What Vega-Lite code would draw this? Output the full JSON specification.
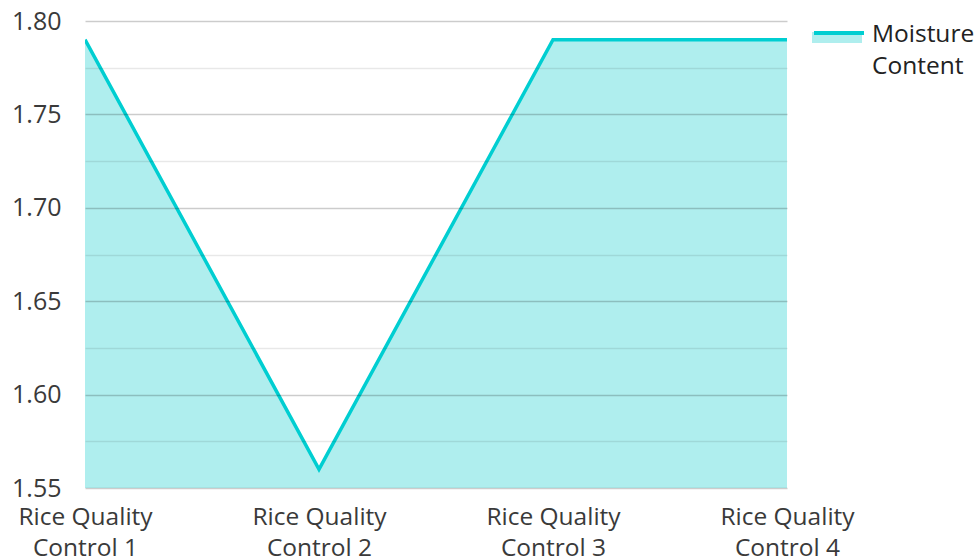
{
  "$schema": "https://vega.github.io/schema/vega-lite/v6.json",
  "width": 702,
  "height": 467,
  "autosize": "none",
  "padding": {"left": 85, "top": 21, "right": 190, "bottom": 72},
  "background": "white",
  "config": {
    "view": {"stroke": null},
    "font": "Open Sans"
  },
  "data": {
    "values": [
      {"sample": "Rice Quality Control 1", "moisture": 1.79},
      {"sample": "Rice Quality Control 2", "moisture": 1.56},
      {"sample": "Rice Quality Control 3", "moisture": 1.79},
      {"sample": "Rice Quality Control 4", "moisture": 1.79}
    ]
  },
  "encoding": {
    "x": {
      "field": "sample",
      "type": "ordinal",
      "scale": {"type": "point", "padding": 0},
      "axis": {
        "title": null,
        "labelAngle": 0,
        "domain": false,
        "ticks": false,
        "grid": false,
        "labelFont": "Open Sans",
        "labelFontSize": 24.5,
        "labelColor": "#3a3a3a",
        "labelPadding": 17,
        "labelLineHeight": 31,
        "labelExpr": "[slice(datum.label, 0, 12), slice(datum.label, 13)]"
      }
    },
    "y": {
      "field": "moisture",
      "type": "quantitative",
      "scale": {"domain": [1.55, 1.8], "zero": false, "nice": false},
      "axis": {
        "title": null,
        "values": [1.55, 1.575, 1.6, 1.625, 1.65, 1.675, 1.7, 1.725, 1.75, 1.775, 1.8],
        "labelExpr": "round(datum.value*1000) % 50 === 0 ? format(datum.value, '.2f') : ''",
        "domain": false,
        "ticks": false,
        "zindex": 1,
        "grid": true,
        "gridWidth": 1.5,
        "gridColor": {
          "condition": {"test": "round(datum.value*1000) % 50 === 0", "value": "rgba(0,0,0,0.2)"},
          "value": "rgba(0,0,0,0.09)"
        },
        "labelFont": "Open Sans",
        "labelFontSize": 25,
        "labelColor": "#3a3a3a",
        "labelPadding": 24
      }
    }
  },
  "layer": [
    {
      "mark": {"type": "area", "interpolate": "linear", "clip": true},
      "encoding": {
        "fill": {
          "datum": "fill",
          "scale": {"range": ["#AFEEEE"]},
          "legend": {
            "title": null,
            "orient": "none",
            "legendX": 727,
            "legendY": -13,
            "padding": 0,
            "symbolType": "M-1,-0.04 L1,-0.04 L1,0.4 L-1,0.4 Z",
            "symbolSize": 2500,
            "symbolStrokeWidth": 0,
            "labelFontSize": 24.5,
            "labelColor": "transparent",
            "labelOffset": 6,
            "labelExpr": "['\u00a0', '\u00a0']",
            "encode": {"labels": {"update": {"lineHeight": {"value": 32}}}}
          }
        }
      }
    },
    {
      "mark": {"type": "line", "strokeWidth": 3.5, "interpolate": "linear", "clip": true},
      "encoding": {
        "stroke": {
          "datum": "Moisture Content",
          "scale": {"range": ["#00CED1"]},
          "legend": {
            "title": null,
            "orient": "none",
            "legendX": 727,
            "legendY": -13,
            "padding": 0,
            "symbolType": "M-1,-0.08 L1,-0.08",
            "symbolSize": 2500,
            "symbolStrokeWidth": 4,
            "labelFont": "Open Sans",
            "labelFontSize": 24.5,
            "labelColor": "#222222",
            "labelOffset": 6,
            "labelExpr": "['Moisture', 'Content']",
            "encode": {"labels": {"update": {"lineHeight": {"value": 32}}}}
          }
        }
      }
    }
  ]
}
